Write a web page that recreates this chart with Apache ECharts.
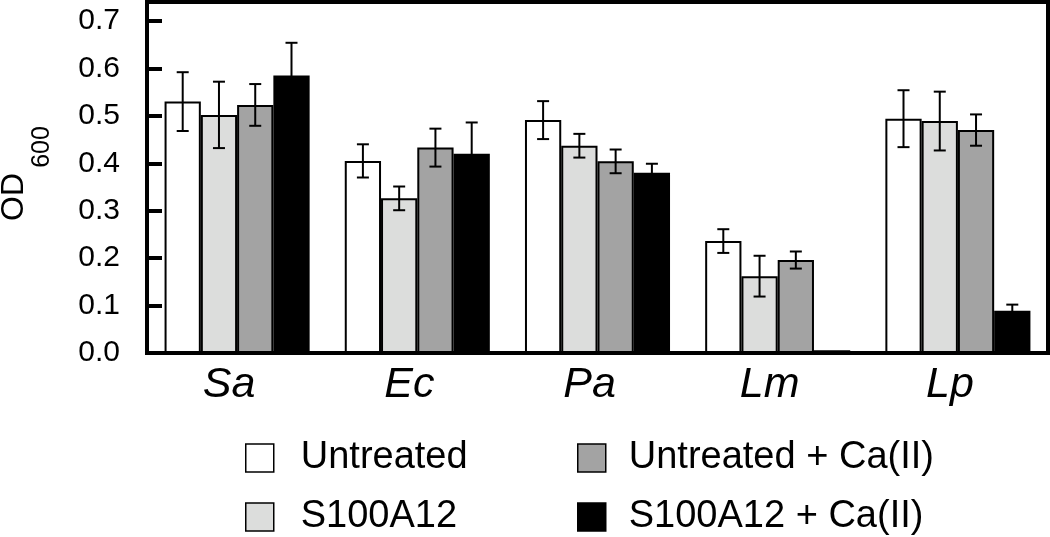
<!DOCTYPE html>
<html>
<head>
<meta charset="utf-8">
<script src="https://cdn.jsdelivr.net/npm/echarts@6/dist/echarts.min.js"></script>
<style>
html,body{margin:0;padding:0;background:#fff;}
#chart{width:1050px;height:537px;}
</style>
</head>
<body>
<div id="chart"></div>
<script>
// ---- data ----
const categories = ['Sa', 'Ec', 'Pa', 'Lm', 'Lp'];
const seriesNames = ['Untreated', 'S100A12', 'Untreated + Ca(II)', 'S100A12 + Ca(II)'];
const untreated      = [0.530, 0.405, 0.491, 0.236, 0.494];
const s100a12        = [0.502, 0.326, 0.437, 0.162, 0.489];
const untreatedCa    = [0.523, 0.433, 0.404, 0.196, 0.470];
const s100a12Ca      = [0.585, 0.420, 0.380, 0.006, 0.089];
const untreatedErr   = [0.062, 0.035, 0.040, 0.025, 0.060];
const s100a12Err     = [0.070, 0.025, 0.025, 0.043, 0.062];
const untreatedCaErr = [0.044, 0.040, 0.025, 0.018, 0.033];
const s100a12CaErr   = [0.069, 0.066, 0.019, 0.000, 0.013];
const yTickLabels = ['0.0', '0.1', '0.2', '0.3', '0.4', '0.5', '0.6', '0.7'];

const values = [untreated, s100a12, untreatedCa, s100a12Ca];
const errors = [untreatedErr, s100a12Err, untreatedCaErr, s100a12CaErr];
const colors = ['#ffffff', '#dcdddc', '#a3a3a3', '#000000'];

const CAT_GAP = 0.195;
const FONT = '"Liberation Sans", Arial, sans-serif';

const errData = [];
values.forEach((arr, s) => arr.forEach((v, i) => errData.push([i, s, v, errors[s][i]])));

function renderErr(params, api) {
  const cat = api.value(0), s = api.value(1), v = api.value(2), e = api.value(3);
  if (!e) return null;
  const band = api.size([1, 0])[0];
  const bw = band * (1 - CAT_GAP) / 4;
  const cx = api.coord([cat, 0])[0] + (s - 1.5) * bw;
  const yT = api.coord([cat, v + e])[1];
  const yB = api.coord([cat, v - e])[1];
  const cap = 6;
  const st = { stroke: '#000', lineWidth: 2 };
  return {
    type: 'group',
    children: [
      { type: 'line', shape: { x1: cx, y1: yT, x2: cx, y2: yB }, style: st },
      { type: 'line', shape: { x1: cx - cap, y1: yT, x2: cx + cap, y2: yT }, style: st },
      { type: 'line', shape: { x1: cx - cap, y1: yB, x2: cx + cap, y2: yB }, style: st }
    ]
  };
}

const chart = echarts.init(document.getElementById('chart'), null, { renderer: 'canvas' });
const barSeries = seriesNames.map((name, s) => ({
  name: name,
  type: 'bar',
  data: values[s],
  barGap: '0%',
  barCategoryGap: (CAT_GAP * 100) + '%',
  itemStyle: { color: colors[s], borderColor: '#000', borderWidth: 2 },
  z: 2
}));

function makeLegend(left, names, textPad) {
  return {
    orient: 'vertical',
    left: left,
    top: 439,
    padding: 0,
    itemWidth: 28,
    itemHeight: 28,
    itemGap: 21,
    icon: 'rect',
    selectedMode: false,
    textStyle: { fontFamily: FONT, fontSize: 38, lineHeight: 36, color: '#000', padding: [0, 0, 0, textPad] },
    data: names.map(n => ({ name: n, itemStyle: { borderColor: '#000', borderWidth: 1.5 } }))
  };
}

chart.setOption({
  animation: false,
  backgroundColor: '#fff',
  grid: { left: 147, right: 2, top: 2, bottom: 184, show: true, borderColor: '#000', borderWidth: 4, backgroundColor: 'transparent' },
  legend: [
    makeLegend(245, seriesNames.slice(0, 2), 22),
    makeLegend(577, seriesNames.slice(2, 4), 18)
  ],
  xAxis: {
    type: 'category',
    data: categories,
    z: 10,
    axisLine: { show: true, lineStyle: { color: '#000', width: 4 } },
    axisTick: { show: false },
    axisLabel: { margin: 11, fontFamily: FONT, fontSize: 43, fontStyle: 'italic', color: '#000', padding: [0, 16, 0, 0] }
  },
  yAxis: {
    type: 'value',
    min: 0,
    max: 0.74,
    interval: 0.1,
    z: 10,
    splitLine: { show: false },
    axisLine: { show: true, lineStyle: { color: '#000', width: 4 } },
    axisTick: { show: true, inside: true, length: 15, lineStyle: { color: '#000', width: 4 } },
    axisLabel: {
      margin: 27,
      showMaxLabel: false,
      fontFamily: FONT, fontSize: 30, color: '#000',
      formatter: v => {
        const i = Math.round(v * 10);
        return Math.abs(v * 10 - i) < 1e-6 ? (yTickLabels[i] || '') : '';
      }
    }
  },
  graphic: [
    { type: 'text', x: 14, y: 197, rotation: Math.PI / 2,
      style: { text: 'OD', font: '32px ' + FONT, fill: '#000', textAlign: 'center', textVerticalAlign: 'middle' } },
    { type: 'text', x: 42, y: 147, rotation: Math.PI / 2,
      style: { text: '600', font: '25px ' + FONT, fill: '#000', textAlign: 'center', textVerticalAlign: 'middle' } }
  ],
  series: barSeries.concat([{
    type: 'custom',
    name: 'error',
    renderItem: renderErr,
    data: errData,
    encode: { x: 0, y: 2 },
    z: 5,
    silent: true
  }])
});
</script>
</body>
</html>
